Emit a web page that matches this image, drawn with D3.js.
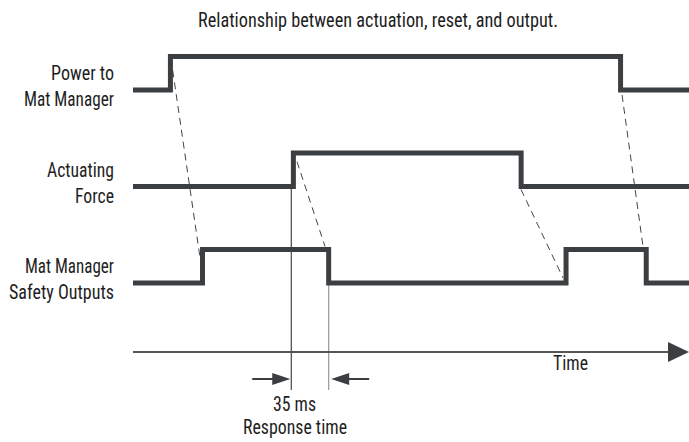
<!DOCTYPE html>
<html>
<head>
<meta charset="utf-8">
<script src="https://cdn.jsdelivr.net/npm/d3@7/dist/d3.min.js"></script>
<style>
  html, body { margin: 0; padding: 0; background: #fff; }
  svg { display: block; }
  text { font-family: "Liberation Sans Narrow", "Roboto Condensed", "DejaVu Sans Condensed", "Liberation Sans", sans-serif; fill: #1e1e1e; }
</style>
</head>
<body>
<svg id="chart" width="689" height="442"></svg>
<script>
// ---- data (time in ms) ----
const title = "Relationship between actuation, reset, and output.";
const signals = ["power", "actuating", "outputs"];
const signalLabels = [["Power to", "Mat Manager"], ["Actuating", "Force"], ["Mat Manager", "Safety Outputs"]];
const initialLevels = [0, 0, 0];
const transitions = [
  [35, 456],            // power on / off
  [150, 363],           // actuating force on / off
  [65, 183, 405, 480]   // safety outputs on / off / on / off
];
// dashed cause/effect links: [t0, signal0, level0, t1, signal1, level1]
const links = [
  [35.5, "power", 0.94, 62.7, "outputs", 0.76],
  [153.4, "actuating", 0.74, 179.6, "outputs", 1.09],
  [362.9, "actuating", -0.09, 402.2, "outputs", 0.15],
  [457.4, "power", -0.15, 477, "outputs", 1.09]
];
const responseStart = 148;
const responseEnd = 183;
const responseLabel = "35 ms";
const responseCaption = "Response time";
const timeMax = 520;
const axisLabel = "Time";

// ---- scales ----
const svg = d3.select("#chart");
const x = d3.scaleLinear().domain([0, timeMax]).range([133, 689]);
const row = d3.scalePoint().domain(signals).range([90, 283]);
const level = d3.scaleLinear().domain([0, 1]).range([0, -33.5]);
const yOf = (s, l) => row(s) + level(l);
const ink = "#3b3f41";
const axisY = 352, arrowY = 379, guideBottom = 390;
const fs = 20;

// title
svg.append("text").attr("x", 198).attr("y", 27)
  .attr("font-size", fs).attr("textLength", 360).attr("lengthAdjust", "spacingAndGlyphs")
  .text(title);

// row labels
const labelWidths = [[63, 90], [67, 39], [89, 105]];
signals.forEach((s, i) => {
  const g = svg.append("g");
  signalLabels[i].forEach((t, j) => {
    g.append("text").attr("x", 114).attr("y", row(s) + (j === 0 ? -10 : 16))
      .attr("text-anchor", "end").attr("font-size", fs)
      .attr("textLength", labelWidths[i][j]).attr("lengthAdjust", "spacingAndGlyphs")
      .text(t);
  });
});

// dashed links
svg.append("g").selectAll("line").data(links).join("line")
  .attr("x1", d => x(d[0])).attr("y1", d => yOf(d[1], d[2]))
  .attr("x2", d => x(d[3])).attr("y2", d => yOf(d[4], d[5]))
  .attr("stroke", "#444").attr("stroke-width", 1).attr("stroke-dasharray", "7,5");

// guide lines for response time
svg.append("line").attr("x1", x(responseStart)).attr("x2", x(responseStart))
  .attr("y1", row("actuating")).attr("y2", guideBottom)
  .attr("stroke", "#222").attr("stroke-width", 1);
svg.append("line").attr("x1", x(responseEnd)).attr("x2", x(responseEnd))
  .attr("y1", row("outputs")).attr("y2", guideBottom)
  .attr("stroke", "#999").attr("stroke-width", 1.2);

// signals as step lines
const line = d3.line().x(d => x(d[0])).y(d => d[1]);
signals.forEach((s, i) => {
  let l = initialLevels[i];
  const pts = [[0, yOf(s, l)]];
  transitions[i].forEach(t => {
    pts.push([t, yOf(s, l)]);
    l = 1 - l;
    pts.push([t, yOf(s, l)]);
  });
  pts.push([timeMax, yOf(s, l)]);
  svg.append("path").attr("d", line(pts))
    .attr("fill", "none").attr("stroke", ink).attr("stroke-width", 5)
    .attr("stroke-linejoin", "miter").attr("stroke-linecap", "butt");
});

// time axis
svg.append("line").attr("x1", x(0)).attr("x2", x(timeMax) - 20)
  .attr("y1", axisY).attr("y2", axisY).attr("stroke", "#555").attr("stroke-width", 2);
svg.append("path")
  .attr("d", `M${x(timeMax) - 21},${axisY - 10}L${x(timeMax)},${axisY}L${x(timeMax) - 21},${axisY + 10}Z`)
  .attr("fill", ink);
svg.append("text").attr("x", 553).attr("y", 370).attr("font-size", fs)
  .attr("textLength", 35).attr("lengthAdjust", "spacingAndGlyphs").text(axisLabel);

// response-time arrows
function arrow(tipX, dir) {
  const len = 38, head = 18, hw = 6;
  const tail = tipX - dir * len;
  svg.append("line").attr("x1", tail).attr("x2", tipX - dir * head + dir * 1)
    .attr("y1", arrowY).attr("y2", arrowY).attr("stroke", ink).attr("stroke-width", 2);
  svg.append("path")
    .attr("d", `M${tipX},${arrowY}L${tipX - dir * head},${arrowY - hw}L${tipX - dir * head},${arrowY + hw}Z`)
    .attr("fill", ink);
}
arrow(x(responseStart) - 1, 1);
arrow(x(responseEnd) + 2.5, -1);

svg.append("text").attr("x", 273).attr("y", 411).attr("font-size", fs)
  .attr("textLength", 43).attr("lengthAdjust", "spacingAndGlyphs").text(responseLabel);
svg.append("text").attr("x", 243).attr("y", 434).attr("font-size", fs)
  .attr("textLength", 104).attr("lengthAdjust", "spacingAndGlyphs").text(responseCaption);
</script>
</body>
</html>
